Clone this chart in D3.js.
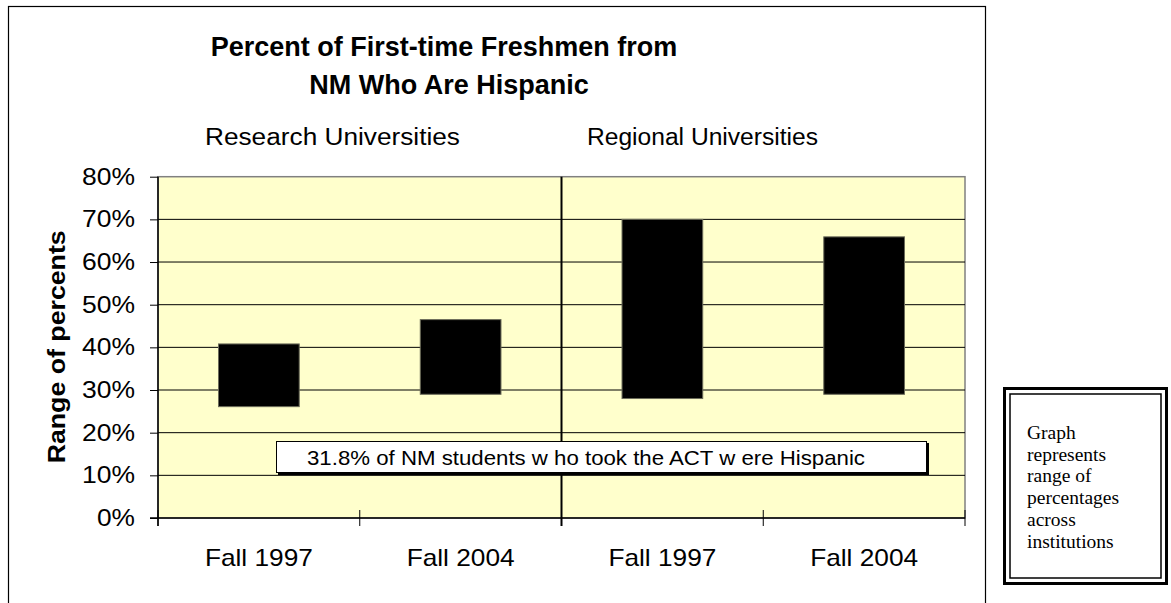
<!DOCTYPE html>
<html lang="en">
<head>
<meta charset="utf-8">
<title>Percent of First-time Freshmen from NM Who Are Hispanic</title>
<script src="https://cdn.jsdelivr.net/npm/d3@7"></script>
<style>
  body { margin: 0; background: #fff; }
  svg text { font-family: Arial, "Liberation Sans", sans-serif; }
</style>
</head>
<body>
<script>
// data
var categories = ["R1997", "R2004", "G1997", "G2004"];
var xLabels = ["Fall 1997", "Fall 2004", "Fall 1997", "Fall 2004"];
var lowValues = [26.1, 29.0, 28.0, 29.0];
var highValues = [40.8, 46.5, 70.0, 65.9];
var yTicks = [0, 10, 20, 30, 40, 50, 60, 70, 80];
var groupLabels = ["Research Universities", "Regional Universities"];
var noteText = "31.8% of NM students w ho took the ACT w ere Hispanic";
var sideNote = ["Graph", "represents", "range of", "percentages", "across", "institutions"];

var w = 1171, h = 603;
var plotLeft = 158, plotRight = 965, plotTop = 176.7, plotBottom = 518;

var svg = d3.select("body").append("svg")
    .attr("width", w)
    .attr("height", h);

// outer chart frame (bottom edge runs off the page)
svg.append("rect")
    .attr("x", 8.5).attr("y", 6.5)
    .attr("width", 977).attr("height", 640)
    .attr("fill", "none")
    .attr("stroke", "#000")
    .attr("stroke-width", 1.2);

var x = d3.scaleBand()
    .domain(categories)
    .range([plotLeft, plotRight])
    .paddingInner(0.6)
    .paddingOuter(0.3);

var y = d3.scaleLinear()
    .domain([0, 80])
    .range([plotBottom, plotTop]);

// plot area
svg.append("rect")
    .attr("x", plotLeft).attr("y", plotTop)
    .attr("width", plotRight - plotLeft).attr("height", plotBottom - plotTop)
    .attr("fill", "#ffffcc")
    .attr("stroke", "#808080")
    .attr("stroke-width", 1.5);

// gridlines
svg.append("g")
    .selectAll("line")
    .data(yTicks.filter(function(d) { return d > 0 && d < 80; }))
    .enter().append("line")
    .attr("x1", plotLeft).attr("x2", plotRight)
    .attr("y1", function(d) { return y(d); })
    .attr("y2", function(d) { return y(d); })
    .attr("stroke", "#000")
    .attr("stroke-width", 1);

// divider between research and regional
var mid = (plotLeft + plotRight) / 2;
svg.append("line")
    .attr("x1", mid).attr("x2", mid)
    .attr("y1", plotTop).attr("y2", plotBottom + 8)
    .attr("stroke", "#000")
    .attr("stroke-width", 2);

// floating range bars
svg.append("g")
    .selectAll("rect")
    .data(categories)
    .enter().append("rect")
    .attr("x", function(d) { return x(d); })
    .attr("y", function(d, i) { return y(highValues[i]); })
    .attr("width", x.bandwidth())
    .attr("height", function(d, i) { return y(lowValues[i]) - y(highValues[i]); })
    .attr("fill", "#000")
    .attr("stroke", "#6b6b5a")
    .attr("stroke-width", 1);

// y axis
var yAxis = d3.axisLeft(y)
    .tickValues(yTicks)
    .tickSize(8)
    .tickPadding(15)
    .tickFormat(function(d) { return d + "%"; });

var gy = svg.append("g")
    .attr("transform", "translate(" + plotLeft + ",0)")
    .call(yAxis);
gy.select(".domain").remove();
gy.selectAll("line").attr("stroke", "#000");
gy.selectAll("text")
    .style("font-size", "23px")
    .attr("fill", "#000")
    .attr("textLength", function(d) { return d === 0 ? 38 : 53; })
    .attr("lengthAdjust", "spacingAndGlyphs");
svg.append("line")
    .attr("x1", plotLeft).attr("x2", plotLeft)
    .attr("y1", plotTop).attr("y2", plotBottom + 8)
    .attr("stroke", "#000")
    .attr("stroke-width", 1.5);

// x axis: ticks sit on the category boundaries
var bounds = [plotLeft].concat(categories.map(function(d) { return x(d) + x.bandwidth() + x.step() * 0.3; }));
svg.append("line")
    .attr("x1", plotLeft - 8).attr("x2", plotRight)
    .attr("y1", plotBottom).attr("y2", plotBottom)
    .attr("stroke", "#000")
    .attr("stroke-width", 1.5);
svg.append("g")
    .selectAll("line")
    .data(bounds)
    .enter().append("line")
    .attr("x1", function(d) { return d; })
    .attr("x2", function(d) { return d; })
    .attr("y1", plotBottom - 8).attr("y2", plotBottom + 8)
    .attr("stroke", "#000")
    .attr("stroke-width", 1);

svg.append("g")
    .selectAll("text")
    .data(categories)
    .enter().append("text")
    .attr("x", function(d) { return x(d) + x.bandwidth() / 2 - 54; })
    .attr("y", 566)
    .style("font-size", "24px")
    .attr("textLength", 108)
    .attr("lengthAdjust", "spacingAndGlyphs")
    .text(function(d, i) { return xLabels[i]; });

// y axis title
svg.append("text")
    .attr("transform", "translate(65," + ((plotTop + plotBottom) / 2 + 116) + ") rotate(-90)")
    .style("font-size", "23px")
    .style("font-weight", "bold")
    .attr("textLength", 233)
    .attr("lengthAdjust", "spacingAndGlyphs")
    .text("Range of percents");

// title
var title = svg.append("text")
    .attr("text-anchor", "middle")
    .style("font-size", "27px")
    .style("font-weight", "bold");
title.append("tspan").attr("x", 444).attr("y", 56).text("Percent of First-time Freshmen from");
title.append("tspan").attr("x", 449).attr("y", 94).text("NM Who Are Hispanic");

// group labels
var groupX = [205, 587];
var groupW = [255, 231];
svg.selectAll(".group")
    .data(groupLabels)
    .enter().append("text")
    .attr("class", "group")
    .attr("x", function(d, i) { return groupX[i]; })
    .attr("y", 145)
    .style("font-size", "23px")
    .attr("textLength", function(d, i) { return groupW[i]; })
    .attr("lengthAdjust", "spacingAndGlyphs")
    .text(function(d) { return d; });

// note box inside plot
svg.append("rect")
    .attr("x", 278).attr("y", 443)
    .attr("width", 651).attr("height", 32)
    .attr("fill", "#000");
svg.append("rect")
    .attr("x", 276.5).attr("y", 441.5)
    .attr("width", 650).attr("height", 31)
    .attr("fill", "#fff")
    .attr("stroke", "#000")
    .attr("stroke-width", 1);
svg.append("text")
    .attr("x", 307).attr("y", 465)
    .style("font-size", "21px")
    .attr("textLength", 558)
    .attr("lengthAdjust", "spacingAndGlyphs")
    .text(noteText);

// side note with double border
svg.append("rect")
    .attr("x", 1004.5).attr("y", 388.5)
    .attr("width", 162).attr("height", 195)
    .attr("fill", "#fff")
    .attr("stroke", "#000")
    .attr("stroke-width", 3);
svg.append("rect")
    .attr("x", 1010).attr("y", 394)
    .attr("width", 151).attr("height", 184)
    .attr("fill", "none")
    .attr("stroke", "#000")
    .attr("stroke-width", 1.5);
svg.append("g")
    .selectAll("text")
    .data(sideNote)
    .enter().append("text")
    .attr("x", 1027)
    .attr("y", function(d, i) { return 439 + i * 21.7; })
    .style("font-family", "'Liberation Serif', 'Times New Roman', serif")
    .style("font-size", "19.5px")
    .text(function(d) { return d; });
</script>
</body>
</html>
